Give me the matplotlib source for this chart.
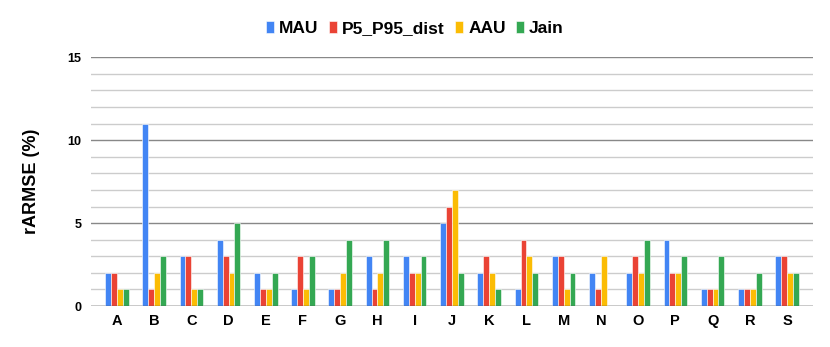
import numpy as np
import matplotlib.pyplot as plt
from matplotlib.ticker import MultipleLocator

plt.rcParams['font.family'] = ['Liberation Sans', 'DejaVu Sans']

# dados
categorias = list("ABCDEFGHIJKLMNOPQRS")
mau = [2, 11, 3, 4, 2, 1, 1, 3, 3, 5, 2, 1, 3, 2, 2, 4, 1, 1, 3]
p5_p95 = [2, 1, 3, 3, 1, 3, 1, 1, 2, 6, 3, 4, 3, 1, 3, 2, 1, 1, 3]
aau = [1, 2, 1, 2, 1, 1, 2, 2, 2, 7, 2, 3, 1, 3, 2, 2, 1, 1, 2]
jain = [1, 3, 1, 5, 2, 3, 4, 4, 3, 2, 1, 2, 2, 0, 4, 3, 3, 2, 2]

series = [('MAU', mau, '#4285F4'),
          ('P5_P95_dist', p5_p95, '#EA4335'),
          ('AAU', aau, '#FBBC04'),
          ('Jain', jain, '#34A853')]

fig, ax = plt.subplots(figsize=(8.3, 3.47), dpi=100)
fig.subplots_adjust(left=0.110, right=0.979, bottom=0.118, top=0.835)

x = np.arange(len(categorias))
w = 0.158
for i, (nome, vals, cor) in enumerate(series):
    ax.bar(x + (i - 1.5) * w, vals, width=w, color=cor, label=nome,
           edgecolor='white', linewidth=0.4, zorder=3)

ax.set_xlim(-0.685, len(categorias) - 1 + 0.685)
ax.set_ylim(0, 15)
ax.yaxis.set_major_locator(MultipleLocator(5))
ax.yaxis.set_minor_locator(MultipleLocator(1))
ax.grid(which='minor', axis='y', color='#cccccc', lw=1, zorder=0)
ax.grid(which='major', axis='y', color='#888888', lw=1, zorder=1)
ax.set_xticks(x)
ax.set_xticklabels(categorias, fontweight='bold', fontsize=10.5)
ax.tick_params(axis='x', length=0, pad=6)
ax.tick_params(axis='y', which='both', length=0, labelsize=9, pad=7)
for lb in ax.get_yticklabels():
    lb.set_fontweight('bold')
for s in ax.spines.values():
    s.set_visible(False)
ax.axhline(0, color='#555555', lw=1, zorder=4)
ax.set_ylabel('rARMSE (%)', fontweight='bold', fontsize=13, labelpad=20)

# legenda centrada na figura, não no eixo
fig.legend(loc='center', bbox_to_anchor=(0.5, 0.918), ncol=4, frameon=False,
           prop={'weight': 'bold', 'size': 12.5}, handlelength=0.45, handleheight=0.7,
           handletextpad=0.3, columnspacing=0.6)

fig.savefig('out.png')
